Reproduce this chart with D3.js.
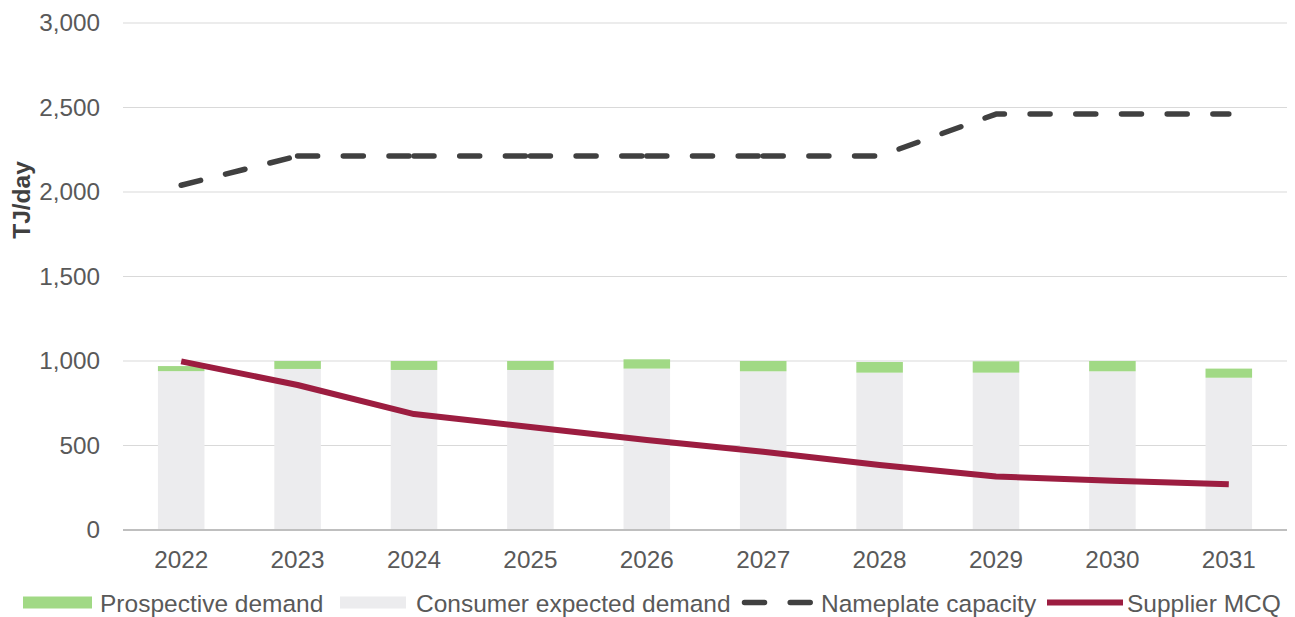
<!DOCTYPE html>
<html>
<head>
<meta charset="utf-8">
<script src="https://cdn.jsdelivr.net/npm/d3@7"></script>
<style>
  html, body { margin: 0; padding: 0; background: #fff; }
  svg { display: block; font-family: "Liberation Sans", Arial, sans-serif; }
</style>
</head>
<body>
<svg id="chart" width="1295" height="617"></svg>
<script>
const categories = ["2022","2023","2024","2025","2026","2027","2028","2029","2030","2031"];
const consumerExpected = [940, 953, 947, 947, 955, 939, 931, 931, 939, 901];
const prospective = [30, 47, 53, 53, 55, 61, 63, 67, 61, 54];
const nameplate = [2040, 2213, 2213, 2213, 2213, 2213, 2213, 2461, 2461, 2461];
const supplierMCQ = [998, 858, 686, 609, 532, 463, 385, 316, 292, 270];
const yTicks = [0, 500, 1000, 1500, 2000, 2500, 3000];
const legendLabels = ["Prospective demand", "Consumer expected demand", "Nameplate capacity", "Supplier MCQ"];

(function () {
const COLORS = { green: "#a1d985", grey: "#ececee", dash: "#404040", red: "#9c1d40", text: "#595959", grid: "#d9d9d9", axis: "#bfbfbf" };

const svg = d3.select("#chart");
const pLeft = 123, pRight = 1287, pTop = 23, pBottom = 530;

const x = d3.scaleBand().domain(categories).range([pLeft, pRight]).paddingInner(0.6).paddingOuter(0.3);
const y = d3.scaleLinear().domain([0, 3000]).range([pBottom, pTop]);
const cx = d => x(d) + x.bandwidth() / 2;

// gridlines
svg.append("g").selectAll("line").data(yTicks.filter(t => t > 0)).join("line")
  .attr("x1", pLeft).attr("x2", pRight)
  .attr("y1", d => y(d)).attr("y2", d => y(d))
  .attr("stroke", COLORS.grid).attr("stroke-width", 1.2);

// y axis labels
const yAxis = d3.axisLeft(y).tickValues(yTicks).tickFormat(d3.format(",")).tickSize(0).tickPadding(0);
const yg = svg.append("g").attr("transform", `translate(100,0)`).call(yAxis);
yg.select(".domain").remove();
yg.selectAll("text").attr("fill", COLORS.text).style("font-size", "24.3px").style("font-family", "'Liberation Sans', Arial, sans-serif");

// axis title
svg.append("text")
  .attr("transform", "translate(30,200) rotate(-90)")
  .attr("text-anchor", "middle")
  .attr("fill", "#404040")
  .style("font-size", "24.5px").style("font-weight", "bold")
  .text("TJ/day");

// bars
const stacked = categories.map((c, i) => ({ c, base: consumerExpected[i], total: consumerExpected[i] + prospective[i] }));
svg.append("g").selectAll("rect").data(stacked).join("rect")
  .attr("x", d => x(d.c)).attr("width", x.bandwidth())
  .attr("y", d => y(d.base)).attr("height", d => y(0) - y(d.base))
  .attr("fill", COLORS.grey);
svg.append("g").selectAll("rect").data(stacked).join("rect")
  .attr("x", d => x(d.c)).attr("width", x.bandwidth())
  .attr("y", d => y(d.total)).attr("height", d => y(d.base) - y(d.total))
  .attr("fill", COLORS.green);

// x axis baseline
svg.append("line").attr("x1", pLeft).attr("x2", pRight).attr("y1", y(0)).attr("y2", y(0))
  .attr("stroke", COLORS.axis).attr("stroke-width", 2);

// x axis labels
const xAxis = d3.axisBottom(x).tickSize(0).tickPadding(0);
const xg = svg.append("g").attr("transform", `translate(0,${pBottom})`).call(xAxis);
xg.select(".domain").remove();
xg.selectAll("text").attr("fill", COLORS.text).attr("dy", null).attr("y", 38)
  .style("font-size", "24.3px").style("font-family", "'Liberation Sans', Arial, sans-serif");

// nameplate capacity dashed line (dash pattern restarts at early vertices, continuous afterwards)
const pts = categories.map((c, i) => [cx(c), y(nameplate[i])]);
const runs = [[0, 1], [1, 2], [2, 3], [3, 4], [4, 5], [5, 9]];
const dline = d3.line();
svg.append("g").selectAll("path").data(runs).join("path")
  .attr("d", r => dline(pts.slice(r[0], r[1] + 1)))
  .attr("fill", "none")
  .attr("stroke", COLORS.dash).attr("stroke-width", 5.5)
  .attr("stroke-linecap", "round").attr("stroke-linejoin", "round")
  .attr("stroke-dasharray", "20,25.7");

// supplier MCQ line
const line = d3.line().x((d, i) => cx(categories[i])).y(d => y(d));
svg.append("path").datum(supplierMCQ).attr("d", line)
  .attr("fill", "none").attr("stroke", COLORS.red).attr("stroke-width", 6)
  .attr("stroke-linejoin", "round");

// legend
const lg = svg.append("g").style("font-size", "24.5px").attr("fill", COLORS.text);
const ly = 602.5;
lg.append("rect").attr("x", 23).attr("y", ly - 6).attr("width", 69).attr("height", 12).attr("fill", COLORS.green);
lg.append("rect").attr("x", 340).attr("y", ly - 6).attr("width", 66).attr("height", 12).attr("fill", COLORS.grey);
lg.append("line").attr("x1", 744.5).attr("x2", 812).attr("y1", ly).attr("y2", ly)
  .attr("stroke", COLORS.dash).attr("stroke-width", 5.5).attr("stroke-linecap", "round").attr("stroke-dasharray", "20,25.7");
lg.append("line").attr("x1", 1047).attr("x2", 1123).attr("y1", ly).attr("y2", ly)
  .attr("stroke", COLORS.red).attr("stroke-width", 6);
const textX = [100, 416, 821, 1127];
lg.selectAll("text").data(legendLabels).join("text")
  .attr("x", (d, i) => textX[i]).attr("y", 611.5).text(d => d);
})();
</script>
</body>
</html>
